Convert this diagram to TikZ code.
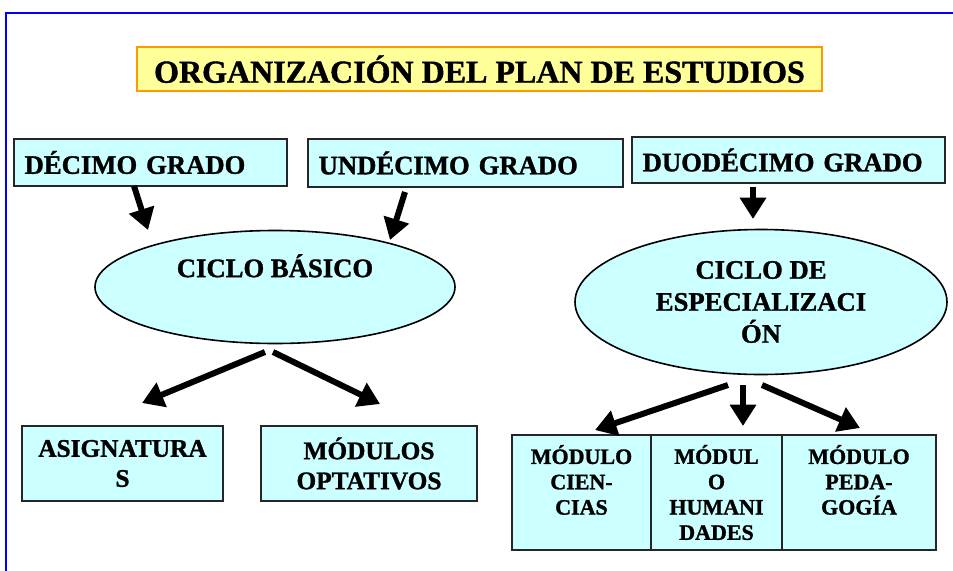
\documentclass[tikz,border=0pt]{standalone}
\usepackage{fontspec}
\setmainfont{Liberation Serif}[BoldFeatures={FakeBold=1.2}]
\usetikzlibrary{shapes.geometric,arrows.meta,positioning}
\definecolor{celeste}{HTML}{CCFFFF}
\definecolor{amarillo}{HTML}{FFFF99}
\definecolor{naranja}{HTML}{FF9900}
\tikzset{
    titulo/.style={
           rectangle,
           draw=naranja, line width=1.5pt,
           fill=amarillo,
           minimum width=513.75pt,
           minimum height=33pt,
           text depth=0pt,
           font=\fontsize{24}{28}\selectfont\bfseries
           },
    grado/.style={
           rectangle,
           draw=black!85, line width=1.2pt,
           fill=celeste,
           inner xsep=8pt,
           align=left,
           font=\fontsize{20}{24}\selectfont\bfseries
           },
    ciclo/.style={
           ellipse,
           draw=black, line width=1.2pt,
           fill=celeste,
           inner sep=0pt,
           align=center,
           font=\fontsize{20}{24}\selectfont\bfseries
           },
    modulo/.style={
           rectangle,
           draw=black!85, line width=1.2pt,
           fill=celeste,
           minimum height=56.25pt,
           align=center,
           font=\fontsize{19}{22.5}\selectfont\bfseries
           },
    celda/.style={
           rectangle,
           draw=black!85, line width=1.2pt,
           fill=celeste,
           outer sep=0pt,
           minimum height=86.25pt,
           align=center,
           font=\fontsize{16.5}{19}\selectfont\bfseries
           },
    flecha/.style={
           line width=4.5pt,
           -{Triangle[width=19pt,length=16pt]}
           }
}

\begin{document}
\begin{tikzpicture}[x=0.75pt, y=-0.75pt]
   \useasboundingbox (0,0) rectangle (953,571);
   % marco
   \draw[blue, line width=1.5pt] (6,571) -- (6,13) -- (953,13);

   \node[titulo] (plan) at (479.5,69) {ORGANIZACIÓN DEL PLAN DE ESTUDIOS};

   \node[grado, text width=188.75pt, minimum height=35.25pt] (decimo) at (150.5,162.5) {DÉCIMO GRADO};
   \node[grado, text width=220.25pt, minimum height=36pt] (undecimo) at (465.5,163) {UNDÉCIMO GRADO};
   \node[grado, text width=218.75pt, minimum height=34.5pt] (duodecimo) at (788.5,160) {DUODÉCIMO GRADO};

   \node[ciclo, minimum width=270pt, minimum height=84.75pt] (basico) at (275,287) {CICLO BÁSICO\\[8pt]~};
   \node[ciclo, minimum width=279pt, minimum height=108.75pt] (espec) at (761,302) {CICLO DE\\ESPECIALIZACI\\ÓN};

   \node[modulo, minimum width=150.75pt] (asig) at (122.5,463.5) {ASIGNATURA\\S};
   \node[modulo, minimum width=162pt] (optat) at (369,463.5) {MÓDULOS\\OPTATIVOS};

   \node[celda, minimum width=104.25pt] (cien) at (581.5,492.5) {MÓDULO\\CIEN-\\CIAS\\~};
   \node[celda, minimum width=98.25pt] (human) [right=0pt of cien] {MÓDUL\\O\\HUMANI\\DADES};
   \node[celda, minimum width=115.5pt] (pedag) [right=0pt of human] {MÓDULO\\PEDA-\\GOGÍA\\~};

   \coordinate (d1) at (134,186);  \coordinate (d2) at (148,230);
   \coordinate (u1) at (405,192);  \coordinate (u2) at (390,240);
   \coordinate (o1) at (753,187);  \coordinate (o2) at (753,219);
   \coordinate (b1) at (265,352);  \coordinate (b2) at (142,403);
   \coordinate (b3) at (273,352);  \coordinate (b4) at (380,404);
   \coordinate (e1) at (728,385);  \coordinate (e2) at (595,430);
   \coordinate (e3) at (743,385);  \coordinate (e4) at (743,426);
   \coordinate (e5) at (762,385);  \coordinate (e6) at (860,428);

   \path[flecha]
    (d1) edge (d2)
    (u1) edge (u2)
    (o1) edge (o2)
    (b1) edge (b2)
    (b3) edge (b4)
    (e1) edge (e2)
    (e3) edge (e4)
    (e5) edge (e6);
\end{tikzpicture}
\end{document}
